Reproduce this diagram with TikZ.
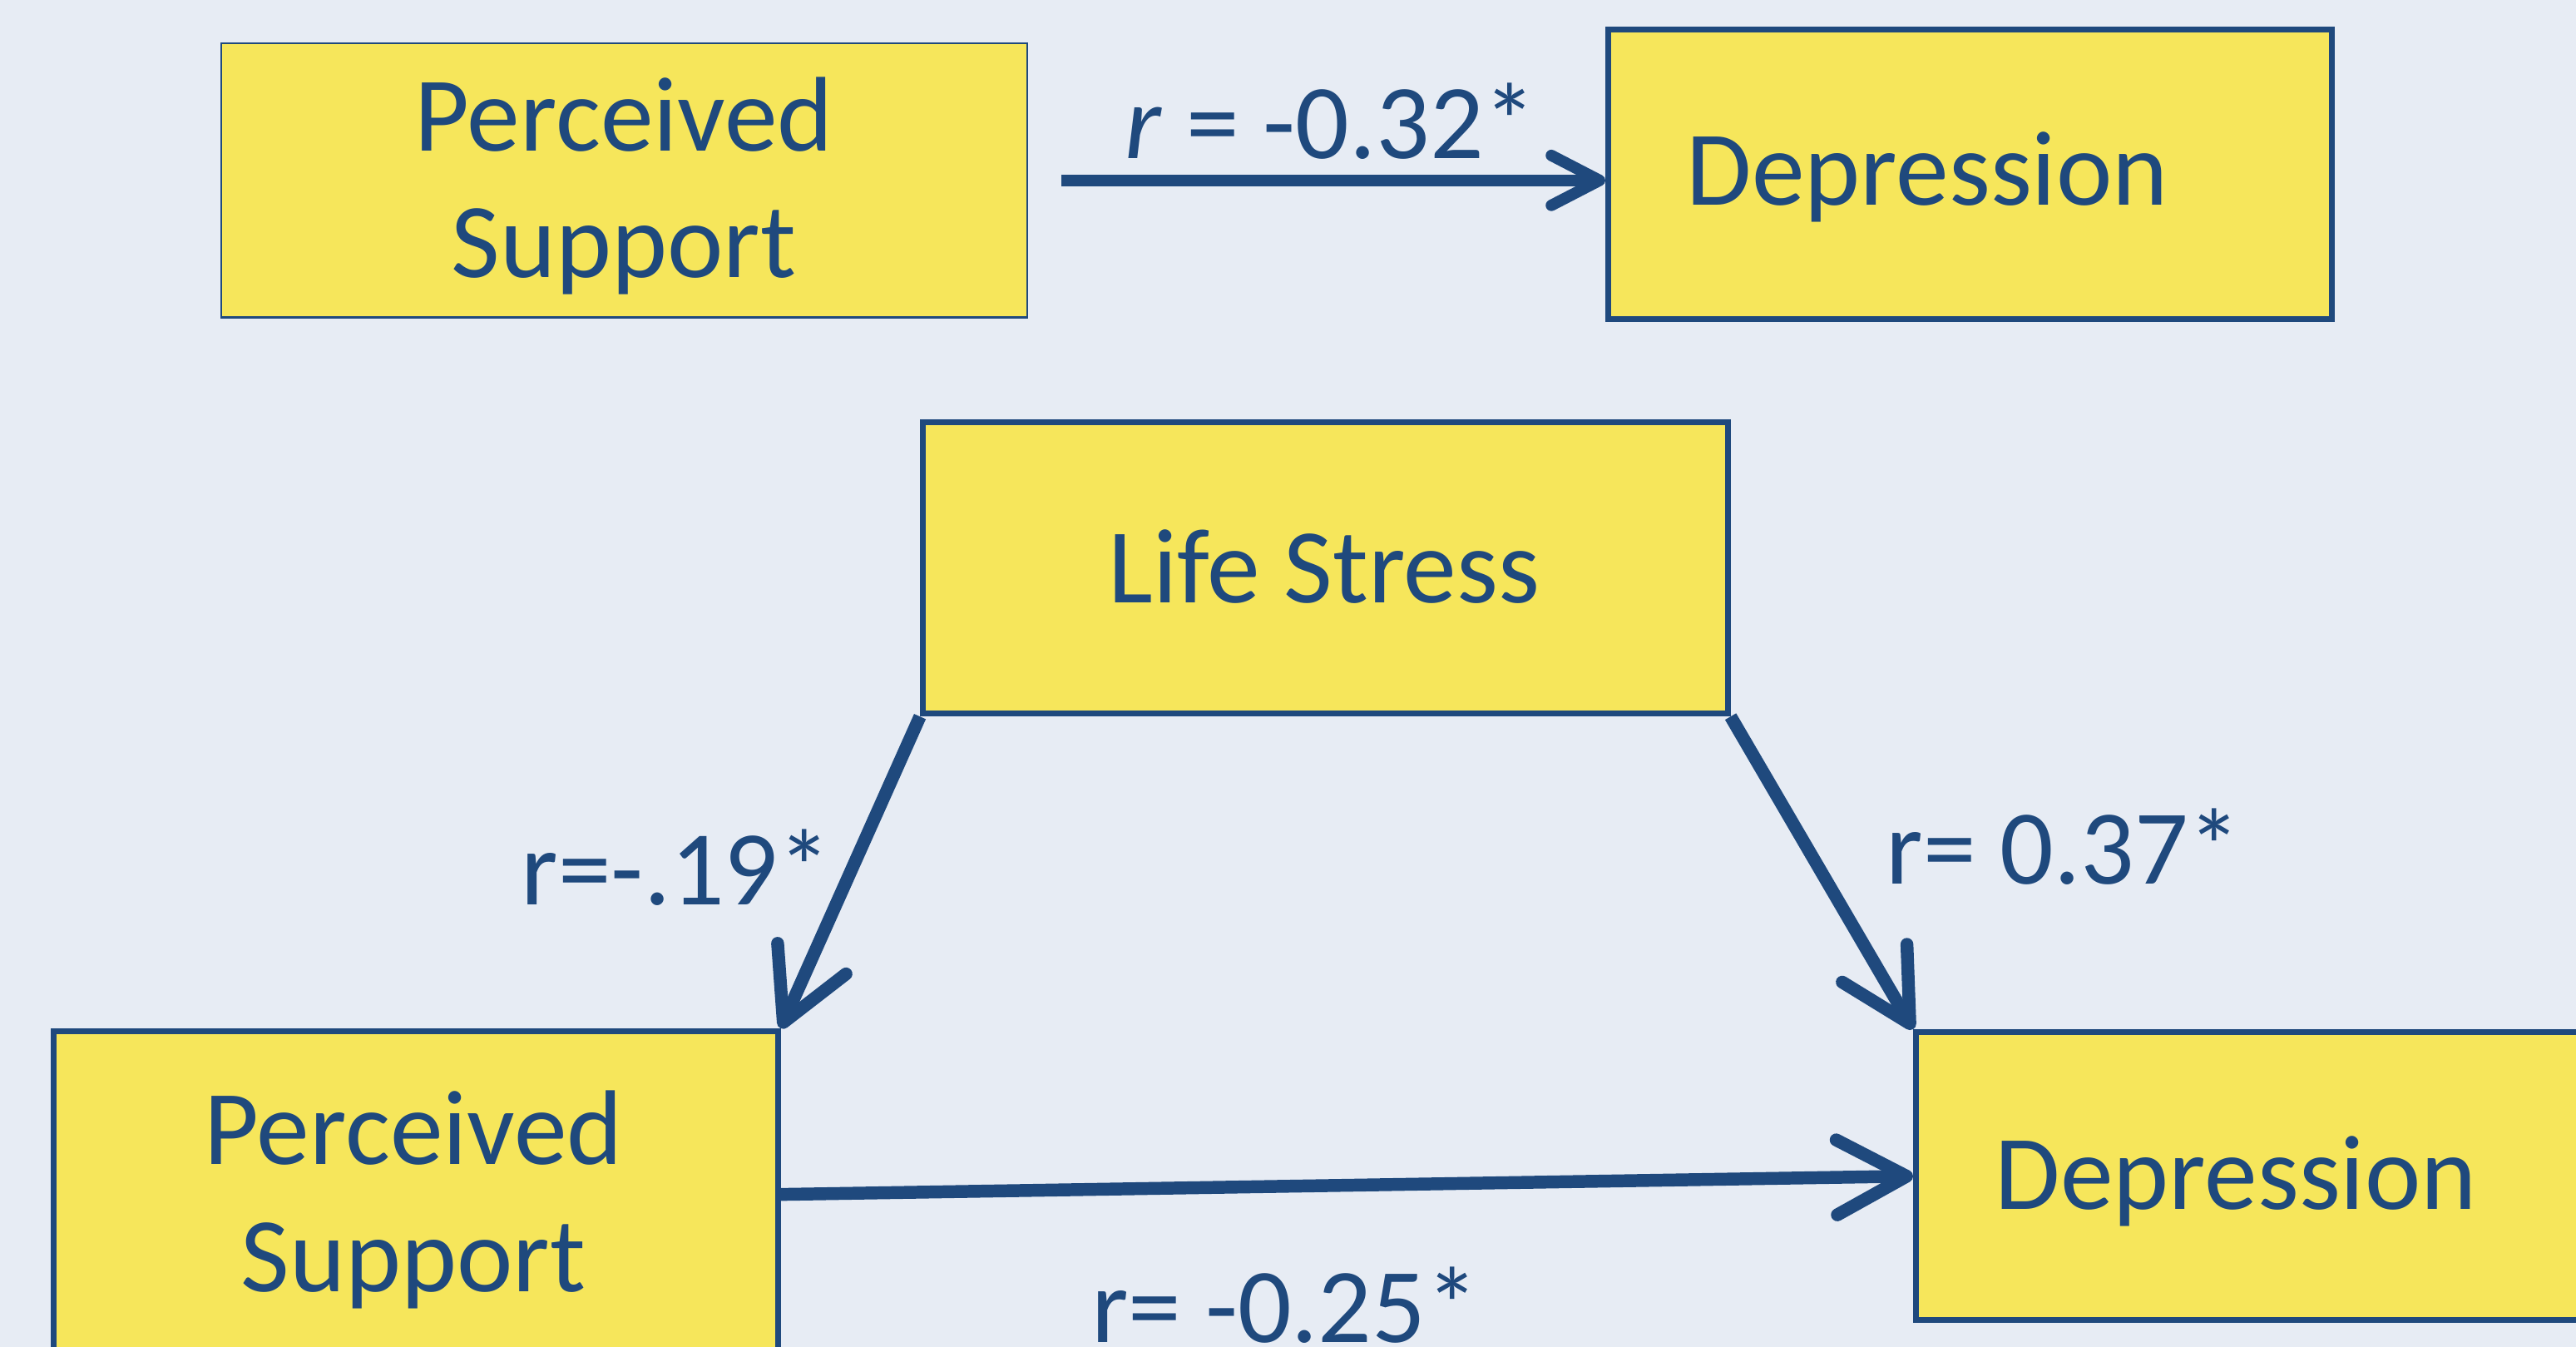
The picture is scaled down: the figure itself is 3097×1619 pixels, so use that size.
\documentclass[tikz,border=0pt]{standalone}
\usepackage{fontspec}
\setmainfont{Carlito}
\usetikzlibrary{arrows.meta}
\definecolor{bg}{HTML}{E7ECF4}
\definecolor{boxfill}{HTML}{F6E65B}
\definecolor{navy}{HTML}{1F497D}
\begin{document}
\begin{tikzpicture}[x=0.01cm,y=-0.01cm,
  box/.style={draw=navy, fill=boxfill, line width=2pt, rectangle, inner sep=0pt, anchor=north west},
  thinbox/.style={box, line width=0.7pt},
  txt/.style={text=navy, font=\fontsize{36.3}{43.3}\selectfont, inner sep=0pt, anchor=base, align=center},
  bigarrow/.style={draw=navy, line width=4.4pt, -{Straight Barb[length=0.84cm,width=0.9cm,round]}},
  smallarrow/.style={draw=navy, line width=3.9pt, -{Straight Barb[length=0.58cm,width=0.6cm,round]}}]
\useasboundingbox (0,0) rectangle (3097,1619);
\clip (0,0) rectangle (3097,1619);
\fill[bg] (0,0) rectangle (3097,1619);

% boxes
\node[thinbox, minimum width=9.68cm, minimum height=3.29cm] (A) at (265,51) {};
\node[box, minimum width=8.69cm, minimum height=3.48cm] (B) at (1930,32) {};
\node[box, minimum width=9.67cm, minimum height=3.50cm] (C) at (1106,504) {};
\node[box, minimum width=8.70cm, minimum height=3.92cm] (D) at (61,1236) {};
\node[box, minimum width=9.00cm, minimum height=3.46cm] (E) at (2300,1237) {};

% box texts (base = baseline of last line)
\node[txt] (tA) at (750,334) {Perceived\\Support};
\node[txt] (tB) at (2317,247) {Depression};
\node[txt] (tC) at (1592,725) {Life Stress};
\node[txt] (tD) at (497,1552) {Perceived\\Support};
\node[txt] (tE) at (2688,1453) {Depression};

% connectors
\draw[smallarrow, shorten <=0.4cm] (A.east) -- (A.east -| B.west);
\draw[bigarrow] (C.south west) -- (D.north east);
\draw[bigarrow] (C.south east) -- (E.north west);
\draw[bigarrow] (D.east) -- (E.west);

% labels
\node[txt] (l1) at (1600,191) {\textit{r} = -0.32*};
\node[txt] (l2) at (813,1087) {r=-.19*};
\node[txt] (l3) at (2481,1062) {r= 0.37*};
\node[txt] (l4) at (1545,1613) {r= -0.25*};
\end{tikzpicture}
\end{document}
